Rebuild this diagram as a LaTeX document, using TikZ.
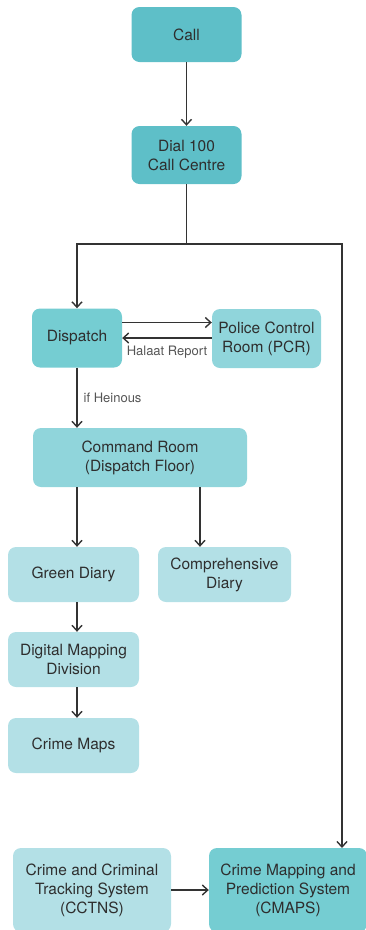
\documentclass[tikz,border=0pt]{standalone}
\usepackage{fontspec}
\setmainfont{TeX Gyre Heros}
\usetikzlibrary{arrows.meta}
\definecolor{cA}{HTML}{5EBFC8}
\definecolor{cB}{HTML}{75CDD2}
\definecolor{cC}{HTML}{90D5DB}
\definecolor{cD}{HTML}{B3E0E6}
\definecolor{txt}{HTML}{2E2E2E}
\definecolor{lnc}{HTML}{333333}
\definecolor{lbl}{HTML}{555555}
\tikzset{
  box/.style={rectangle, rounded corners=8pt, draw=none, text=txt, align=center,
    inner sep=0pt, font=\fontsize{15.5}{19}\selectfont},
  arr/.style={draw=lnc, line width=1.4pt, -{Straight Barb[length=5.5pt,width=10pt]}},
  ln/.style={draw=lnc, line width=1.4pt},
  lab/.style={text=lbl, font=\fontsize{13}{15}\selectfont, inner sep=0pt}
}
\begin{document}
\begin{tikzpicture}[x=1pt,y=-1pt]
\useasboundingbox (0,0) rectangle (365,930);
\node[box, fill=cA, minimum width=110pt, minimum height=55pt] (call) at (186.5,34.5) {Call};
\node[box, fill=cA, minimum width=110pt, minimum height=58pt] (dial) at (186.5,155) {Dial 100\\Call Centre};
\node[box, fill=cB, minimum width=90pt, minimum height=59pt] (disp) at (77,338) {Dispatch};
\node[box, fill=cC, minimum width=109pt, minimum height=59pt] (pcr) at (266.5,338.5) {Police Control\\Room (PCR)};
\node[box, fill=cC, minimum width=214pt, minimum height=59pt] (cmd) at (140,457.5) {Command Room\\(Dispatch Floor)};
\node[box, fill=cD, minimum width=131pt, minimum height=55pt] (green) at (73.5,574.5) {Green Diary};
\node[box, fill=cD, minimum width=133pt, minimum height=55pt] (comp) at (224.5,574.5) {Comprehensive\\Diary};
\node[box, fill=cD, minimum width=131pt, minimum height=55pt] (dmd) at (73.5,659.5) {Digital Mapping\\Division};
\node[box, fill=cD, minimum width=131pt, minimum height=55pt] (maps) at (73.5,745.5) {Crime Maps};
\node[box, fill=cD, minimum width=158pt, minimum height=84pt] (cctns) at (92,890) {Crime and Criminal\\Tracking System\\(CCTNS)};
\node[box, fill=cB, minimum width=158pt, minimum height=84pt] (cmaps) at (288,890) {Crime Mapping and\\Prediction System\\(CMAPS)};

\coordinate (j) at (186.5,244);
\coordinate (jr) at (342,244);
\coordinate (cmin) at (342,848);

\draw[arr] (call.south) -- (dial.south |- dial.north);
\draw[ln] (dial.south) -- (j);
\draw[arr] (j) -| (disp.north);
\draw[arr] (j) -- (jr) -- (cmin);

\draw[arr] ([yshift=15.5pt]disp.east) -- ([yshift=15.5pt]disp.east -| pcr.west);
\draw[arr] (pcr.west |- disp.east) -- (disp.east)
  node[lab, midway, below=7pt] {Halaat Report};

\draw[arr] (disp.south) -- (disp.south |- cmd.north)
  node[lab, midway, right=6pt] {if Heinous};

\draw[arr] (disp.south |- cmd.south) -- (disp.south |- green.north);
\draw[arr] ([xshift=60pt]cmd.south) -- ([xshift=60pt]cmd.south |- comp.north);
\draw[arr] (disp.south |- green.south) -- (disp.south |- dmd.north);
\draw[arr] (disp.south |- dmd.south) -- (disp.south |- maps.north);
\draw[arr] (cctns.east) -- (cmaps.west);
\end{tikzpicture}
\end{document}
